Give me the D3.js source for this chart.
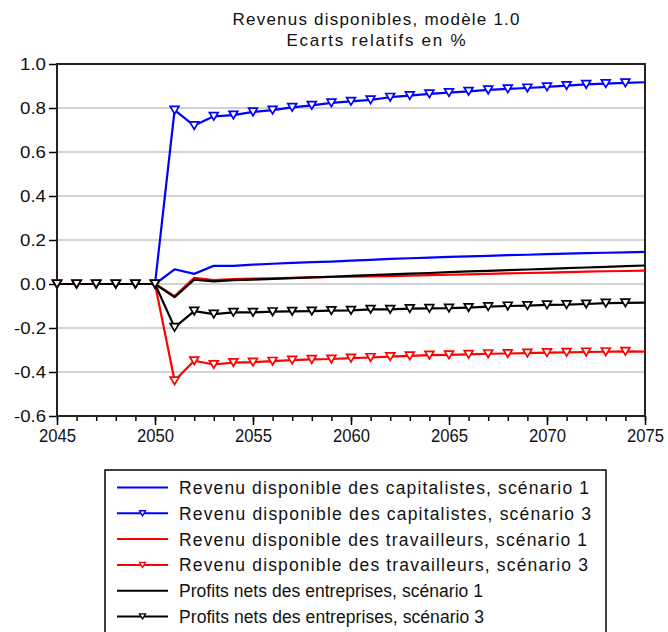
<!DOCTYPE html>
<html>
<head>
<meta charset="utf-8">
<script src="https://cdn.jsdelivr.net/npm/d3@7"></script>
<style>
  html, body { margin: 0; padding: 0; background: #fff; }
  svg { display: block; font-family: "Liberation Sans", Arial, sans-serif; }
</style>
</head>
<body>
<svg id="chart" width="668" height="632"></svg>
<script>
const years = d3.range(2045, 2076);
const titleLines = ["Revenus disponibles, modèle 1.0", "Ecarts relatifs en %"];
const yTicks = [1.0, 0.8, 0.6, 0.4, 0.2, 0.0, -0.2, -0.4, -0.6];
const xTicks = [2045, 2050, 2055, 2060, 2065, 2070, 2075];

const zeros = [0, 0, 0, 0, 0, 0];
const capSc1 = zeros.concat([0.067, 0.046, 0.083, 0.082, 0.088, 0.092, 0.096, 0.099, 0.102, 0.106, 0.110, 0.114, 0.117, 0.120, 0.123, 0.126, 0.128, 0.131, 0.133, 0.136, 0.138, 0.140, 0.142, 0.144, 0.146]);
const capSc3 = zeros.concat([0.790, 0.720, 0.762, 0.768, 0.782, 0.790, 0.803, 0.812, 0.823, 0.830, 0.837, 0.849, 0.856, 0.864, 0.870, 0.876, 0.882, 0.887, 0.891, 0.896, 0.902, 0.907, 0.911, 0.914, 0.917]);
const travSc1 = zeros.concat([-0.055, 0.028, 0.018, 0.022, 0.024, 0.026, 0.028, 0.030, 0.032, 0.033, 0.035, 0.036, 0.038, 0.040, 0.042, 0.044, 0.046, 0.048, 0.050, 0.052, 0.054, 0.056, 0.058, 0.059, 0.061]);
const travSc3 = zeros.concat([-0.440, -0.349, -0.366, -0.357, -0.355, -0.351, -0.346, -0.343, -0.341, -0.337, -0.334, -0.330, -0.327, -0.323, -0.322, -0.320, -0.317, -0.316, -0.314, -0.312, -0.311, -0.309, -0.308, -0.306, -0.307]);
const profSc1 = zeros.concat([-0.060, 0.020, 0.012, 0.018, 0.020, 0.023, 0.027, 0.030, 0.033, 0.037, 0.040, 0.044, 0.047, 0.050, 0.054, 0.057, 0.060, 0.063, 0.066, 0.069, 0.072, 0.075, 0.078, 0.081, 0.084]);
const profSc3 = zeros.concat([-0.197, -0.123, -0.137, -0.129, -0.129, -0.126, -0.124, -0.123, -0.121, -0.120, -0.115, -0.115, -0.112, -0.111, -0.110, -0.107, -0.103, -0.100, -0.098, -0.095, -0.094, -0.091, -0.087, -0.086, -0.085]);

const seriesNames = [
  "Revenu disponible des capitalistes, scénario 1",
  "Revenu disponible des capitalistes, scénario 3",
  "Revenu disponible des travailleurs, scénario 1",
  "Revenu disponible des travailleurs, scénario 3",
  "Profits nets des entreprises, scénario 1",
  "Profits nets des entreprises, scénario 3"
];
const seriesValues = [capSc1, capSc3, travSc1, travSc3, profSc1, profSc3];
const seriesColors = ["#0000ff", "#0000ff", "#ff0000", "#ff0000", "#000000", "#000000"];
const seriesMarkers = [false, true, false, true, false, true];
const legendWidths = [410, 412, 408, 409, 304, 305];

const svg = d3.select("#chart");
const m = { left: 57, right: 645, top: 64, bottom: 416 };

const x = d3.scaleLinear().domain([2045, 2075]).range([m.left, m.right]);
const y = d3.scaleLinear().domain([-0.6, 1.0]).range([m.bottom, m.top]);

// Title
svg.selectAll(".title").data(titleLines).join("text")
  .attr("x", 376).attr("y", (d, i) => 24.5 + i * 21.7)
  .attr("text-anchor", "middle")
  .attr("font-size", 17).attr("fill", "#111")
  .attr("textLength", (d, i) => i === 0 ? 287 : 179)
  .attr("lengthAdjust", "spacing")
  .text(d => d);

// Gridlines
svg.append("g").selectAll("line").data(yTicks.filter(v => v < 0.99 && v > -0.59)).join("line")
  .attr("x1", m.left).attr("x2", m.right)
  .attr("y1", d => y(d)).attr("y2", d => y(d))
  .attr("stroke", "#d3d3d3").attr("stroke-width", 2);

// Y axis
const yAxis = d3.axisLeft(y).tickValues(yTicks).tickFormat(d3.format(".1f")).tickSize(8).tickPadding(3);
const gy = svg.append("g").attr("transform", `translate(${m.left},0)`).call(yAxis);
gy.select(".domain").remove();
gy.selectAll(".tick line").attr("stroke", "#000").attr("stroke-width", 1.5);
gy.selectAll(".tick text").attr("font-size", 17).attr("fill", "#111")
  .attr("font-family", "'Liberation Sans', Arial, sans-serif")
  .attr("textLength", d => d < 0 ? 32 : 26).attr("lengthAdjust", "spacingAndGlyphs")
  .text(d => d3.format(".1f")(d).replace("−", "-"));

// X axis: minor ticks
const xMinor = d3.axisBottom(x).tickValues(years).tickSize(5).tickFormat("");
const gxm = svg.append("g").attr("transform", `translate(0,${m.bottom})`).call(xMinor);
gxm.select(".domain").remove();
gxm.selectAll(".tick line").attr("stroke", "#000").attr("stroke-width", 1.5);

const xAxis = d3.axisBottom(x).tickValues(xTicks).tickFormat(d3.format("d")).tickSize(9).tickPadding(5);
const gx = svg.append("g").attr("transform", `translate(0,${m.bottom})`).call(xAxis);
gx.select(".domain").remove();
gx.selectAll(".tick line").attr("stroke", "#000").attr("stroke-width", 1.5);
gx.selectAll(".tick text").attr("font-size", 17.5).attr("fill", "#111")
  .attr("font-family", "'Liberation Sans', Arial, sans-serif")
  .attr("textLength", 37).attr("lengthAdjust", "spacingAndGlyphs");

// Frame
svg.append("rect")
  .attr("x", m.left).attr("y", m.top)
  .attr("width", m.right - m.left).attr("height", m.bottom - m.top)
  .attr("fill", "none").attr("stroke", "#222").attr("stroke-width", 2);

// Lines
const line = d3.line().x((d, i) => x(years[i])).y(d => y(d));
const tri = (s) => `M${-s},${-s * 0.85}L${s},${-s * 0.85}L0,${s * 0.85}Z`;

seriesValues.forEach((vals, k) => {
  const g = svg.append("g");
  g.append("path").datum(vals)
    .attr("d", line)
    .attr("fill", "none")
    .attr("stroke", seriesColors[k])
    .attr("stroke-width", 2.2)
    .attr("stroke-linejoin", "round");
  if (seriesMarkers[k]) {
    g.selectAll("path.mk").data(vals.slice(0, vals.length - 1)).join("path")
      .attr("class", "mk")
      .attr("transform", (d, i) => `translate(${x(years[i])},${y(d)})`)
      .attr("d", tri(4.4))
      .attr("fill", "#fff")
      .attr("stroke", seriesColors[k])
      .attr("stroke-width", 1.7);
  }
});

// Legend
const lg = svg.append("g");
lg.append("rect").attr("x", 105).attr("y", 470).attr("width", 501).attr("height", 180)
  .attr("fill", "#fff").attr("stroke", "#000").attr("stroke-width", 1.5);
seriesNames.forEach((name, k) => {
  const by = 494 + k * 25.8;
  const ly = by - 6.5;
  lg.append("line").attr("x1", 117).attr("x2", 168).attr("y1", ly).attr("y2", ly)
    .attr("stroke", seriesColors[k]).attr("stroke-width", 2);
  if (seriesMarkers[k]) {
    lg.append("path").attr("transform", `translate(142.5,${ly})`).attr("d", tri(3))
      .attr("fill", "#fff").attr("stroke", seriesColors[k]).attr("stroke-width", 1.3);
  }
  lg.append("text").attr("x", 179).attr("y", by)
    .attr("font-size", 17.5).attr("fill", "#111")
    .attr("textLength", legendWidths[k]).attr("lengthAdjust", "spacing")
    .text(name);
});
</script>
</body>
</html>
